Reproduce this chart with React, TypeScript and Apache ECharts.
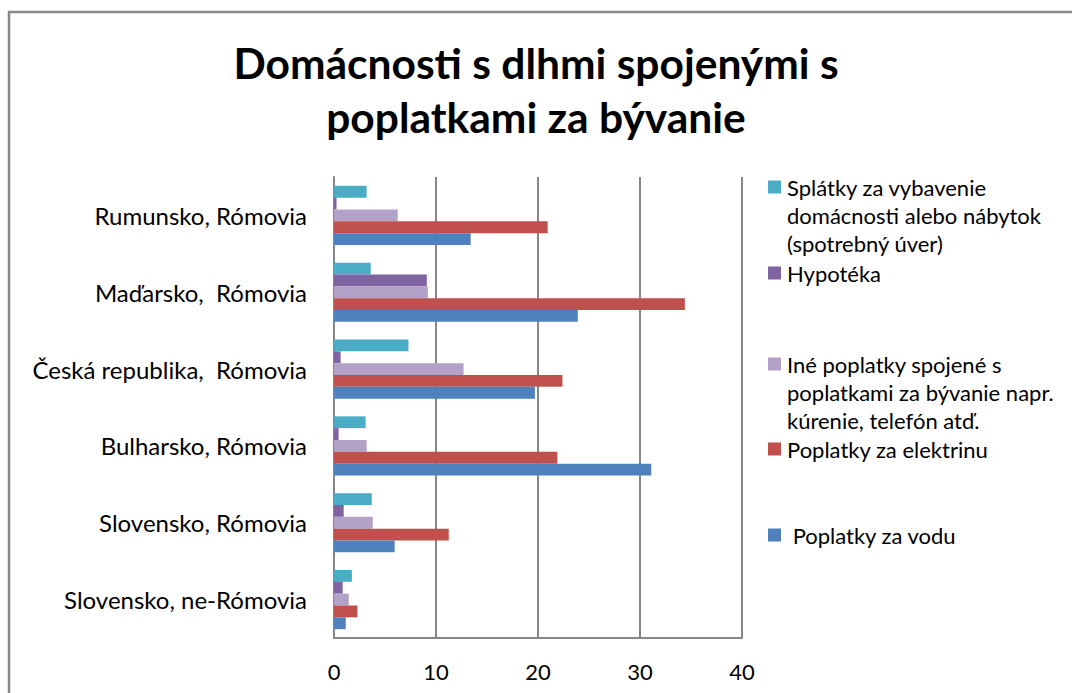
import React, { useEffect, useRef } from "react";
import * as echarts from "echarts";

const categories = [
  "Slovensko, ne-Rómovia",
  "Slovensko, Rómovia",
  "Bulharsko, Rómovia",
  "Česká republika,  Rómovia",
  "Maďarsko,  Rómovia",
  "Rumunsko, Rómovia",
];

// series in order from top bar to bottom bar within each category
const seriesNames = [
  "Splátky za vybavenie domácnosti alebo nábytok (spotrebný úver)",
  "Hypotéka",
  "Iné poplatky spojené s poplatkami za bývanie napr. kúrenie, telefón atď.",
  "Poplatky za elektrinu",
  "Poplatky za vodu",
];

const splatky = [1.75, 3.7, 3.1, 7.3, 3.6, 3.2];
const hypoteka = [0.85, 0.95, 0.45, 0.65, 9.1, 0.25];
const ine = [1.45, 3.8, 3.2, 12.7, 9.2, 6.25];
const elektrina = [2.3, 11.25, 21.9, 22.4, 34.4, 20.95];
const voda = [1.15, 5.95, 31.1, 19.7, 23.9, 13.4];

const xTicks = [0, 10, 20, 30, 40];

const colors = ["#4BACC6", "#8064A2", "#B3A2C7", "#C0504D", "#4F81BD"];

const legendTexts = [
  "Splátky za vybavenie\ndomácnosti alebo nábytok\n(spotrebný úver)",
  "Hypotéka",
  "Iné poplatky spojené s\npoplatkami za bývanie napr.\nkúrenie, telefón atď.",
  "Poplatky za elektrinu",
  " Poplatky za vodu",
];
const legendY = [187, 273, 364, 449, 535];

const FONT = "Lato, 'Noto Sans', sans-serif";

export default function App() {
  const ref = useRef<HTMLDivElement>(null);
  useEffect(() => {
    if (!ref.current) return;
    const chart = echarts.init(ref.current, undefined, { renderer: "svg" });
    const data = [splatky, hypoteka, ine, elektrina, voda];
    const legendGraphics: any[] = [];
    legendTexts.forEach((t, i) => {
      legendGraphics.push({
        type: "rect",
        shape: { x: 768, y: legendY[i] - 6.5, width: 13, height: 13 },
        style: { fill: colors[i] },
      });
      legendGraphics.push({
        type: "text",
        x: 787,
        y: legendY[i] - 14,
        style: {
          text: t,
          fill: "#000",
          font: `22px ${FONT}`,
          lineHeight: 28,
          verticalAlign: "top",
        },
      });
    });
    chart.setOption({
      animation: false,
      backgroundColor: "#fff",
      title: {
        text: "Domácnosti s dlhmi spojenými s\npoplatkami za bývanie",
        left: "center",
        top: 30,
        textStyle: {
          fontFamily: FONT,
          fontWeight: "bold",
          fontSize: 42.5,
          lineHeight: 54,
          color: "#000",
        },
      },
      grid: { left: 334, right: 330, top: 177, bottom: 55, containLabel: false },
      xAxis: {
        type: "value",
        min: 0,
        max: 40,
        interval: 10,
        axisLine: { show: true, lineStyle: { color: "#868686", width: 2 } },
        axisTick: { show: false },
        splitLine: { show: true, lineStyle: { color: "#868686", width: 2 } },
        axisLabel: {
          color: "#000",
          fontSize: 22,
          fontFamily: FONT,
          margin: 22,
          formatter: (v: number) => (xTicks.includes(v) ? String(v) : ""),
        },
      },
      yAxis: {
        type: "category",
        data: categories,
        axisLine: { show: true, lineStyle: { color: "#868686", width: 2 } },
        axisTick: { show: false },
        axisLabel: {
          color: "#000",
          fontSize: 24,
          fontFamily: FONT,
          margin: 27,
          padding: [0, 0, 18, 0],
        },
      },
      series: seriesNames.map((name, i) => ({
        name,
        type: "bar",
        data: data[i],
        itemStyle: { color: colors[i] },
        barGap: "0%",
        barCategoryGap: "23%",
      })),
      graphic: [
        {
          type: "rect",
          shape: { x: 9, y: 12, width: 1100, height: 750 },
          style: { fill: "none", stroke: "#888", lineWidth: 2.5 },
          silent: true,
        },
        ...legendGraphics,
      ],
    });
    return () => chart.dispose();
  }, []);
  return (
    <div
      ref={ref}
      style={{ position: "fixed", left: 0, top: 0, width: 1072, height: 693 }}
    />
  );
}
